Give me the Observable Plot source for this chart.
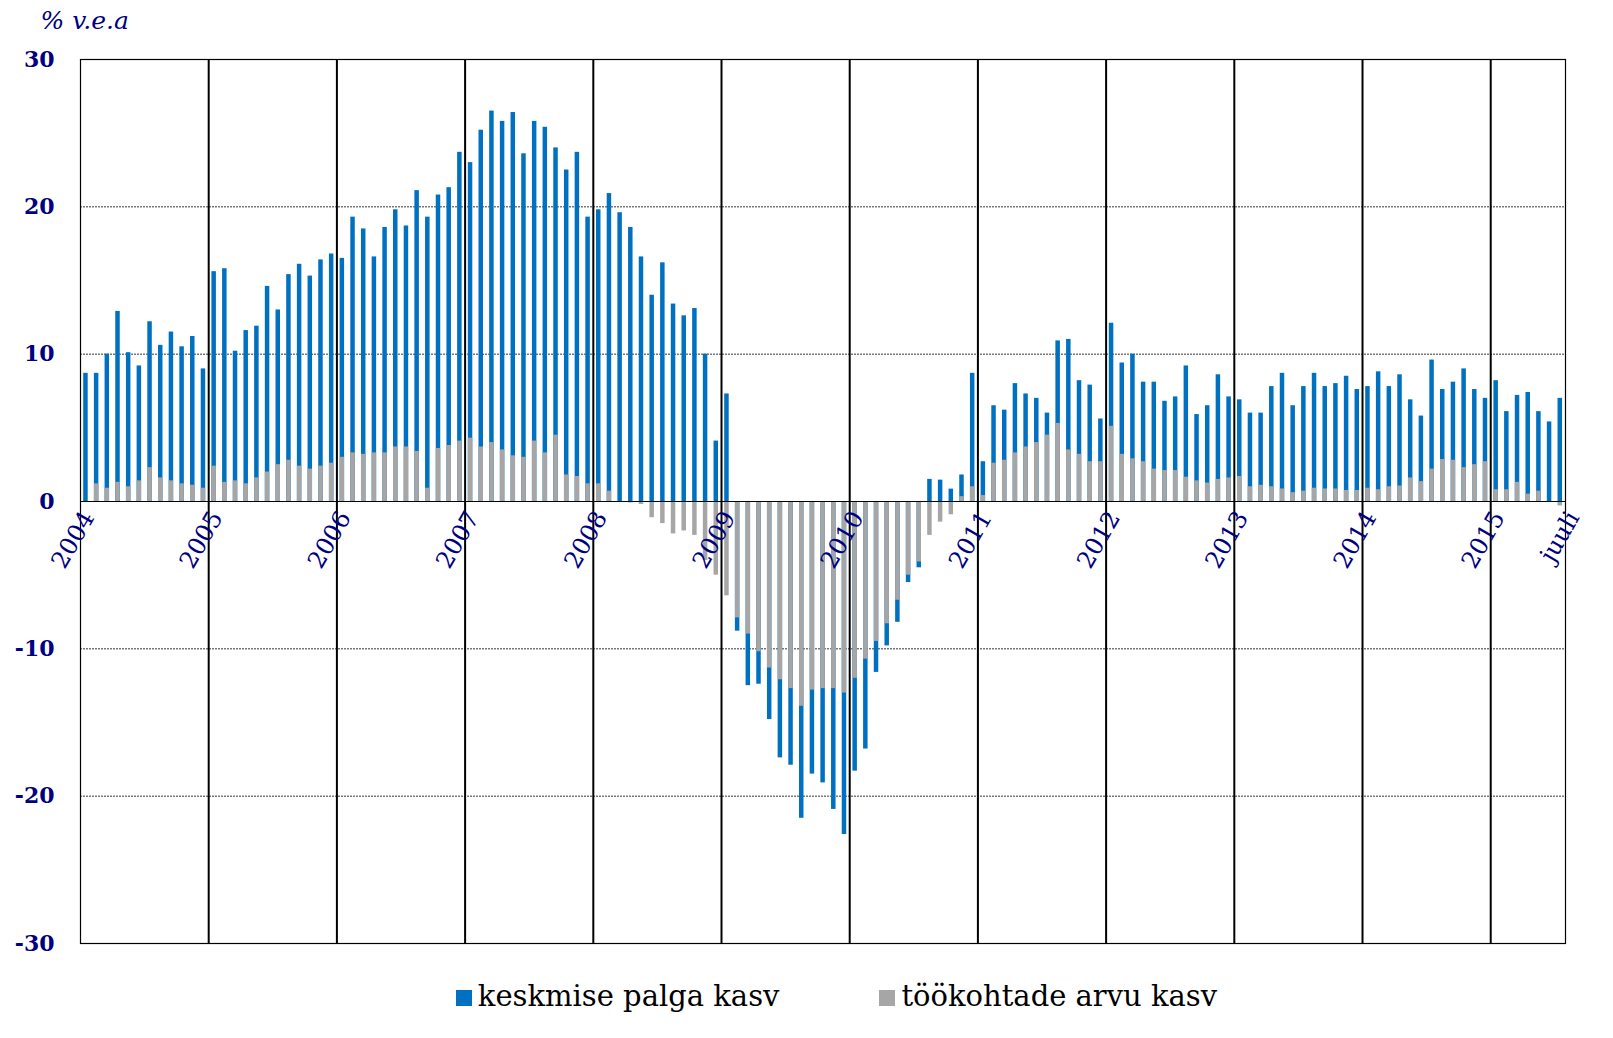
<!DOCTYPE html>
<html>
<head>
<meta charset="utf-8">
<script src="https://cdn.jsdelivr.net/npm/d3@7"></script>
<script src="https://cdn.jsdelivr.net/npm/@observablehq/plot@0.6"></script>
<style>
  html, body { margin: 0; background: #fff; font-family: "DejaVu Serif", serif; overflow: hidden; }
  #legend { display: flex; justify-content: center; gap: 100px; font-size: 29px; margin-top: 14px; padding-left: 60px; }
  #legend span.sw { display: inline-block; width: 16px; height: 16px; margin-right: 6px; }
</style>
</head>
<body>
<div id="chart"></div>
<div id="legend">
  <div><span class="sw" style="background:#0070c0"></span>keskmise palga kasv</div>
  <div><span class="sw" style="background:#a6a6a6"></span>töökohtade arvu kasv</div>
</div>
<script>
// monthly values, Jan 2004 .. Jul 2015
const palk = [
  8.7, 8.7, 10.0, 12.9, 10.1, 9.2, 12.2, 10.6, 11.5, 10.5, 11.2, 9.0,
  15.6, 15.8, 10.2, 11.6, 11.9, 14.6, 13.0, 15.4, 16.1, 15.3, 16.4, 16.8,
  16.5, 19.3, 18.5, 16.6, 18.6, 19.8, 18.7, 21.1, 19.3, 20.8, 21.3, 23.7,
  23.0, 25.2, 26.5, 25.8, 26.4, 23.6, 25.8, 25.4, 24.0, 22.5, 23.7, 19.3,
  19.8, 20.9, 19.6, 18.6, 16.6, 14.0, 16.2, 13.4, 12.6, 13.1, 10.0, 4.1,
  7.3, -8.8, -12.5, -12.4, -14.8, -17.4, -17.9, -21.5, -18.5, -19.1, -20.9, -22.6,
  -18.3, -16.8, -11.6, -9.8, -8.2, -5.5, -4.5, 1.5, 1.45, 0.84, 1.8, 8.7,
  2.7, 6.5, 6.2, 8.0, 7.3, 7.0, 6.0, 10.9, 11.0, 8.2, 7.9, 5.6,
  12.1, 9.4, 10.0, 8.1, 8.1, 6.8, 7.1, 9.2, 5.9, 6.5, 8.6, 7.1,
  6.9, 6.0, 6.0, 7.8, 8.7, 6.5, 7.8, 8.7, 7.8, 8.0, 8.5, 7.6,
  7.8, 8.8, 7.8, 8.6, 6.9, 5.8, 9.6, 7.6, 8.1, 9.0, 7.6, 7.0,
  8.2, 6.1, 7.2, 7.4, 6.1, 5.4, 7.0
];
const tookohad = [
  0.0, 1.2, 0.9, 1.3, 1.0, 1.4, 2.3, 1.6, 1.4, 1.2, 1.1, 0.9,
  2.4, 1.3, 1.4, 1.2, 1.6, 2.0, 2.5, 2.8, 2.4, 2.2, 2.4, 2.6,
  3.0, 3.3, 3.2, 3.3, 3.3, 3.7, 3.7, 3.4, 0.9, 3.6, 3.8, 4.1,
  4.3, 3.7, 4.0, 3.5, 3.1, 3.0, 4.1, 3.3, 4.5, 1.8, 1.7, 1.2,
  1.2, 0.7, 0.0, -0.1, -0.2, -1.1, -1.5, -2.2, -2.0, -2.3, -4.0, -5.0,
  -6.4, -7.9, -9.0, -10.2, -11.3, -12.1, -12.7, -13.9, -12.8, -12.7, -12.7, -13.0,
  -12.0, -10.7, -9.5, -8.3, -6.7, -5.0, -4.1, -2.3, -1.4, -0.9, 0.33, 1.0,
  0.4, 2.6, 2.8, 3.3, 3.7, 4.0, 4.5, 5.3, 3.5, 3.2, 2.7, 2.7,
  5.1, 3.2, 2.9, 2.7, 2.2, 2.1, 2.1, 1.65, 1.4, 1.25, 1.5, 1.6,
  1.7, 1.0, 1.1, 1.0, 0.85, 0.6, 0.7, 0.9, 0.85, 0.85, 0.75, 0.75,
  0.9, 0.8, 1.0, 1.05, 1.6, 1.35, 2.2, 2.85, 2.8, 2.3, 2.5, 2.7,
  0.8, 0.8, 1.3, 0.5, 0.7, 0.0, -0.3
];
const years = d3.range(2004, 2016);
const yTicks = [-30, -20, -10, 0, 10, 20, 30];
const gridLines = [-20, -10, 10, 20];

const rows = palk.map((v, i) => ({i, palk: v, tookohad: tookohad[i]}));
const yearRows = years.map((y, k) => ({year: String(y), i: k * 12}));
const labels = [...yearRows, {year: "juuli", i: palk.length}];

const navy = "#000080";
const chart = Plot.plot({
  width: 1613,
  height: 965,
  marginLeft: 80,
  marginRight: 48,
  marginTop: 59,
  marginBottom: 22,
  style: {fontFamily: "DejaVu Serif, serif", background: "#fff"},
  x: {domain: [0, palk.length], axis: null},
  y: {domain: [-30, 30], ticks: yTicks, axis: null},
  marks: [
    Plot.ruleY(gridLines, {stroke: "#000", strokeDasharray: "2,1", strokeWidth: 0.8}),
    Plot.ruleX(yearRows.slice(1), {x: "i", stroke: "#000", strokeWidth: 2}),
    Plot.rectY(rows, {x1: d => d.i + 0.3, x2: d => d.i + 0.72, y1: 0, y2: "palk", fill: "#0070c0"}),
    Plot.rectY(rows, {x1: d => d.i + 0.3, x2: d => d.i + 0.72, y1: 0, y2: "tookohad", fill: "#a6a6a6"}),
    Plot.ruleY([0], {stroke: "#000", strokeWidth: 1.2}),
    Plot.frame({stroke: "#000", strokeWidth: 1.2}),
    Plot.text(yTicks, {x: 0, y: d => d, text: d => String(d), textAnchor: "end", dx: -26, fill: navy, fontSize: 22, fontWeight: "bold"}),
    Plot.text(labels, {x: "i", y: 0, text: "year", rotate: -60, textAnchor: "end", dx: 8, dy: 12, fill: navy, fontSize: 24}),
    Plot.text(["% v.e.a"], {frameAnchor: "top-left", dx: -40, dy: -48, fill: navy, fontSize: 25, fontStyle: "italic", textAnchor: "start"})
  ]
});
document.getElementById("chart").append(chart);
</script>
</body>
</html>
